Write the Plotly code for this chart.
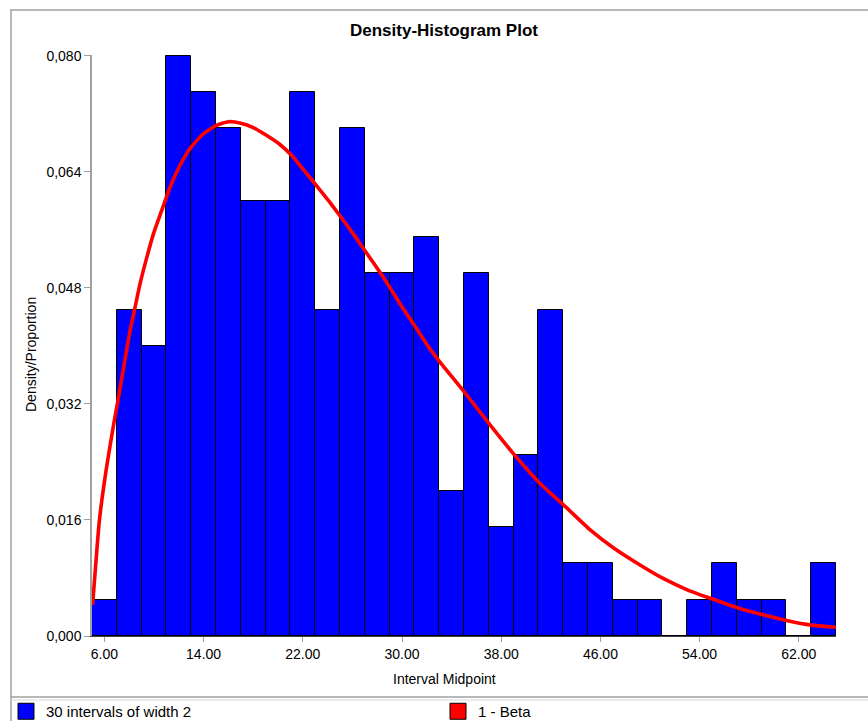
import plotly.graph_objects as go

# ---- data ----
bin_mids = [6, 8, 10, 12, 14, 16, 18, 20, 22, 24, 26, 28, 30, 32, 34,
            36, 38, 40, 42, 44, 46, 48, 50, 52, 54, 56, 58, 60, 62, 64]
bin_vals = [0.005, 0.045, 0.040, 0.080, 0.075, 0.070, 0.060, 0.060, 0.075, 0.045,
            0.070, 0.050, 0.050, 0.055, 0.020, 0.050, 0.015, 0.025, 0.045, 0.010,
            0.010, 0.005, 0.005, 0.000, 0.005, 0.010, 0.005, 0.005, 0.000, 0.010]
bin_width = 2

curve_x = [5.05, 5.6, 6.14, 6.8, 7.13, 7.6, 8.07, 8.47, 8.88, 9.42, 9.95, 10.63,
           11.3, 12.1, 12.9, 13.95, 15.03, 16.0, 17.0, 18.0, 19.0, 20.13, 21.07,
           22.0, 23.1, 24.17, 25.1, 26.17, 27.1, 28.2, 29.0, 29.95, 30.9, 31.96,
           33.05, 35.0, 37.1, 39.1, 41.15, 43.2, 45.2, 47.1, 49.0, 51.1, 53.1,
           55.2, 57.2, 59.2, 61.1, 63.0, 65.0]
curve_y = [0.0043, 0.0160, 0.0229, 0.0297, 0.0328, 0.0375, 0.0421, 0.0453, 0.0486,
           0.0522, 0.0554, 0.0587, 0.0619, 0.0649, 0.0672, 0.0692, 0.0704, 0.0709,
           0.0707, 0.0701, 0.0691, 0.0678, 0.0663, 0.0644, 0.0621, 0.0598, 0.0577,
           0.0552, 0.0529, 0.0502, 0.0481, 0.0455, 0.0431, 0.0403, 0.0378, 0.0337,
           0.0291, 0.0249, 0.0210, 0.0178, 0.0146, 0.0121, 0.0100, 0.0079, 0.0063,
           0.0050, 0.0038, 0.0029, 0.0021, 0.0015, 0.0012]

x_tickvals = [6, 14, 22, 30, 38, 46, 54, 62]
x_ticktext = ["6.00", "14.00", "22.00", "30.00", "38.00", "46.00", "54.00", "62.00"]
y_tickvals = [0.0, 0.016, 0.032, 0.048, 0.064, 0.080]
y_ticktext = ["0,000", "0,016", "0,032", "0,048", "0,064", "0,080"]

title_text = "Density-Histogram Plot"
x_title = "Interval Midpoint"
y_title = "Density/Proportion"
hist_name = "30 intervals of width 2"
curve_name = "1 - Beta"

# ---- layout geometry (pixels) ----
W, H = 868, 721
L, R, T, B = 92, 32, 55, 85
PW, PH = W - L - R, H - T - B


def px(x):
    return (x - L) / PW


def py(y):
    return (H - B - y) / PH


FONT = "Liberation Sans, Arial, sans-serif"
GRAY = "#a0a0a0"
BLUE = "#0000ff"
RED = "#ff0000"

fig = go.Figure()
fig.add_trace(go.Bar(
    x=bin_mids, y=bin_vals, width=[bin_width] * len(bin_mids),
    marker=dict(color=BLUE, line=dict(color="#000000", width=1)),
    name=hist_name, showlegend=False,
))
fig.add_trace(go.Scatter(
    x=curve_x, y=curve_y, mode="lines",
    line=dict(color=RED, width=3.6, shape="spline", smoothing=0.5),
    name=curve_name, showlegend=False,
))
# legend entries drawn as filled boxes (as in the reference)
fig.add_trace(go.Scatter(
    x=[None], y=[None], mode="markers",
    marker=dict(symbol="square", size=16, color=BLUE, line=dict(color="#000000", width=1)),
    name=hist_name, showlegend=True, legend="legend",
))
fig.add_trace(go.Scatter(
    x=[None], y=[None], mode="markers",
    marker=dict(symbol="square", size=16, color=RED, line=dict(color="#000000", width=1)),
    name=curve_name, showlegend=True, legend="legend2",
))

shapes = [
    dict(type="line", xref="paper", yref="paper", x0=px(10), x1=px(W), y0=py(10), y1=py(10),
         line=dict(color=GRAY, width=1.5)),
    dict(type="line", xref="paper", yref="paper", x0=px(11), x1=px(11), y0=py(10), y1=py(H),
         line=dict(color=GRAY, width=1.5)),
    dict(type="line", xref="paper", yref="paper", x0=px(11), x1=px(W), y0=py(697), y1=py(697),
         line=dict(color=GRAY, width=1.5)),
    dict(type="line", xref="paper", yref="paper", x0=px(11), x1=px(W), y0=py(700), y1=py(700),
         line=dict(color="#d8d8d8", width=1)),
]

annotations = [
    dict(text="<b>" + title_text + "</b>", xref="paper", yref="paper",
         x=px(444), y=py(31), showarrow=False, font=dict(size=17, color="#000000", family=FONT),
         xanchor="center", yanchor="middle"),
    dict(text=x_title, xref="paper", yref="paper",
         x=px(444), y=py(679), showarrow=False, font=dict(size=14, color="#000000", family=FONT),
         xanchor="center", yanchor="middle"),
    dict(text=y_title, xref="paper", yref="paper", textangle=-90,
         x=px(31), y=py(355), showarrow=False, font=dict(size=14, color="#000000", family=FONT),
         xanchor="center", yanchor="middle"),
]

legend_common = dict(orientation="h", xanchor="left", yanchor="top",
                     font=dict(size=15, family=FONT, color="#000000"),
                     bgcolor="rgba(0,0,0,0)", itemsizing="trace")

fig.update_layout(
    width=W, height=H,
    margin=dict(l=L, r=R, t=T, b=B, pad=0, autoexpand=False),
    paper_bgcolor="white", plot_bgcolor="white",
    bargap=0,
    font=dict(family=FONT, size=14, color="#000000"),
    shapes=shapes, annotations=annotations,
    showlegend=True,
    legend=dict(x=px(6), y=py(695), **legend_common),
    legend2=dict(x=px(438), y=py(695), **legend_common),
    xaxis=dict(range=[5, 65], tickvals=x_tickvals, ticktext=x_ticktext,
               showgrid=False, zeroline=False, showline=True, linecolor="#404040", linewidth=1,
               ticks="outside", ticklen=5, tickcolor=GRAY, tickfont=dict(size=14, family=FONT)),
    yaxis=dict(range=[0, 0.0801], tickvals=y_tickvals, ticktext=y_ticktext,
               showgrid=False, zeroline=False, showline=True, linecolor=GRAY, linewidth=1.5,
               ticks="outside", ticklen=6, tickcolor=GRAY, tickfont=dict(size=14, family=FONT)),
)

fig.write_html("out.html")
